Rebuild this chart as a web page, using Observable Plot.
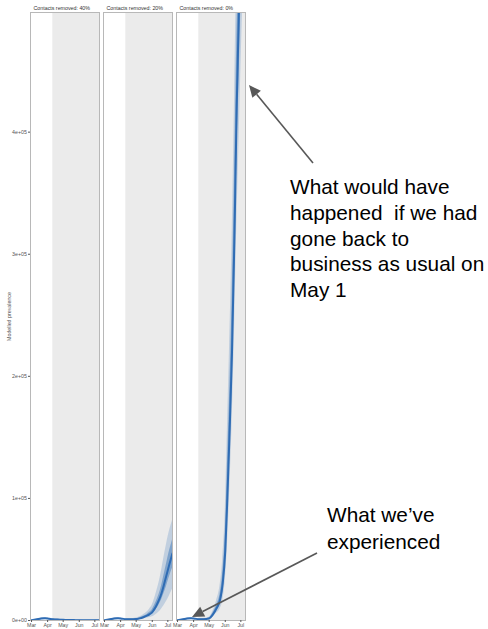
<!DOCTYPE html>
<html>
<head>
<meta charset="utf-8">
<script src="https://cdn.jsdelivr.net/npm/d3@7"></script>
<script src="https://cdn.jsdelivr.net/npm/@observablehq/plot@0.6"></script>
<style>
  html, body { margin: 0; padding: 0; background: #fff; }
  #chart { position: relative; width: 488px; height: 629px; overflow: hidden; }
  #chart svg { position: absolute; left: 0; top: 0; }
  #notes text { font-family: "Liberation Sans", Arial, Helvetica, sans-serif; font-size: 20.8px; fill: #000; white-space: pre; }
</style>
</head>
<body>
<div id="chart"></div>
<script>
// Scenario panels
const scenarios = ["Contacts removed: 40%", "Contacts removed: 20%", "Contacts removed: 0%"];

// Common time grid for the modelled trajectories
const dates = ["2020-03-01","2020-03-10","2020-03-20","2020-03-27","2020-04-03","2020-04-11","2020-04-20",
  "2020-05-01","2020-05-08","2020-05-15","2020-05-22","2020-05-27","2020-06-01","2020-06-05","2020-06-09",
  "2020-06-14","2020-06-19","2020-06-23","2020-06-28","2020-07-03","2020-07-10"];

// 40% of contacts removed: median, 50% and 95% intervals
const med40  = [250,800,1600,1800,1500,1100,800,550,450,380,320,280,250,230,210,195,180,165,150,135,120];
const lo50_40 = [190,650,1400,1600,1300,950,650,440,350,290,240,210,185,170,155,140,128,118,106,95,85];
const hi50_40 = [320,950,1800,2000,1700,1300,950,700,580,500,430,380,345,325,305,290,275,258,242,228,214];
const lo95_40 = [120,500,1150,1350,1100,780,520,340,270,220,175,148,128,113,100,90,78,70,60,52,44];
const hi95_40 = [420,1200,2100,2300,2000,1600,1200,900,770,680,600,555,520,495,475,455,435,415,395,375,355];

// 20% of contacts removed
const med20  = [250,800,1600,1800,1500,1100,950,1150,1750,2700,3900,5200,6900,9300,12300,16800,22500,28500,36500,44500,55000];
const lo50_20 = [190,650,1400,1600,1300,950,780,900,1350,2100,3000,3900,5200,7000,9300,12700,17000,21500,27500,34500,43000];
const hi50_20 = [320,950,1800,2000,1700,1300,1150,1450,2250,3500,5000,6700,8900,12100,15800,21200,28500,36000,45500,55000,66000];
const lo95_20 = [120,500,1150,1350,1100,780,600,680,930,1380,1880,2380,2980,3950,5150,6900,9400,11900,15300,19300,25500];
const hi95_20 = [420,1200,2100,2300,2000,1600,1450,1950,3000,4800,7000,9500,12600,17400,23200,31000,41000,50500,61500,71500,82000];

// 0% of contacts removed (back to business as usual)
const med0  = [250,800,1600,1800,1500,1100,1050,1700,4800,9800,17000,30000,57000,100000,150000,220000,320000,420000,510000,600000,700000];
const lo50_0 = [190,650,1400,1600,1300,950,850,1350,3900,7900,13000,23000,45000,80000,125000,190000,280000,370000,450000,540000,640000];
const hi50_0 = [320,950,1800,2000,1700,1300,1250,2100,6000,12300,22000,39000,72000,125000,180000,260000,370000,470000,560000,660000,760000];
const lo95_0 = [120,500,1150,1350,1100,780,650,1050,2900,5900,9500,16000,33000,60000,100000,160000,240000,320000,400000,480000,560000];
const hi95_0 = [420,1200,2100,2300,2000,1600,1550,2600,7600,15800,29000,50000,90000,155000,220000,310000,430000,540000,640000,750000,850000];

// Axis ticks and shaded projection window
const yTicks = [0, 100000, 200000, 300000, 400000];
const xTicks = ["2020-03-01","2020-04-01","2020-05-01","2020-06-01","2020-07-01"];
const xDomain = ["2020-02-28","2020-07-10"];
const shadeStart = "2020-04-11";
const yMax = 498000;

const series = [
  [scenarios[0], med40, lo50_40, hi50_40, lo95_40, hi95_40],
  [scenarios[1], med20, lo50_20, hi50_20, lo95_20, hi95_20],
  [scenarios[2], med0, lo50_0, hi50_0, lo95_0, hi95_0]
];
const rows = series.flatMap(([scenario, med, lo50, hi50, lo95, hi95]) =>
  dates.map((d, i) => ({scenario, date: new Date(d), med: med[i], lo50: lo50[i], hi50: hi50[i], lo95: lo95[i], hi95: hi95[i]})));

const sci = v => {
  if (v === 0) return "0e+00";
  const [m, e] = v.toExponential(0).split("e");
  return m + "e" + e[0] + e.slice(1).padStart(2, "0");
};

const blue = "#2f6cb4";
const x0 = new Date(xDomain[0]), x1 = new Date(xDomain[1]), xs = new Date(shadeStart);

const plot = Plot.plot({
  width: 488,
  height: 629,
  marginLeft: 29,
  marginRight: 242,
  marginTop: 12,
  marginBottom: 9,
  style: {fontFamily: "'Liberation Sans', Arial, Helvetica, sans-serif", fontSize: "5.3px", background: "transparent"},
  fx: {domain: scenarios, paddingInner: 0.055, paddingOuter: 0, axis: null},
  x: {type: "utc", domain: [x0, x1]},
  y: {domain: [0, yMax]},
  marks: [
    Plot.rect(scenarios, {fx: d => d, x1: () => xs, x2: () => x1, y1: () => 0, y2: () => yMax, fill: "#ebebeb"}),
    Plot.areaY(rows, {fx: "scenario", x: "date", y1: "lo95", y2: "hi95", fill: blue, fillOpacity: 0.22, curve: "monotone-x", clip: true}),
    Plot.areaY(rows, {fx: "scenario", x: "date", y1: "lo50", y2: "hi50", fill: blue, fillOpacity: 0.45, curve: "monotone-x", clip: true}),
    Plot.lineY(rows, {fx: "scenario", x: "date", y: "med", stroke: blue, strokeWidth: 2, curve: "monotone-x", clip: true}),
    Plot.frame({stroke: "#b8b8b8", strokeWidth: 1}),
    Plot.text(scenarios, {fx: d => d, text: d => d, frameAnchor: "top-left", lineAnchor: "bottom", dx: 3, dy: -2.5, fill: "#333", fontSize: 5.3}),
    Plot.axisY({
      ticks: yTicks, tickFormat: sci, tickSize: 2, tickPadding: 1.5, color: "#555",
      label: "Modelled prevalence", labelAnchor: "center", labelArrow: "none", labelOffset: 23
    }),
    Plot.axisX({
      ticks: xTicks.map(d => new Date(d)), tickFormat: d3.utcFormat("%b"), tickSize: 2, tickPadding: 1, color: "#555", label: null
    })
  ]
});
document.getElementById("chart").appendChild(plot);

// Annotation layer: callout text and arrows
const notes = d3.select("#chart").append("svg")
  .attr("id", "notes").attr("width", 488).attr("height", 629).style("pointer-events", "none");

const calloutA = ["What would have", "happened  if we had", "gone back to", "business as usual on", "May 1"];
const calloutB = ["What we\u2019ve", "experienced"];

calloutA.forEach((t, i) => notes.append("text").attr("x", 290).attr("y", 194 + i * 25.8).text(t));
calloutB.forEach((t, i) => notes.append("text").attr("x", 327).attr("y", 522 + i * 26.5).text(t));

function arrow(fx, fy, tx, ty) {
  const a = Math.atan2(ty - fy, tx - fx), len = 12, hw = 5.5;
  const bx = tx - len * Math.cos(a), by = ty - len * Math.sin(a);
  notes.append("line").attr("x1", fx).attr("y1", fy).attr("x2", bx).attr("y2", by)
    .attr("stroke", "#585858").attr("stroke-width", 1.6);
  notes.append("path")
    .attr("d", `M${tx},${ty}L${bx + hw * Math.sin(a)},${by - hw * Math.cos(a)}L${bx - hw * Math.sin(a)},${by + hw * Math.cos(a)}Z`)
    .attr("fill", "#585858");
}
arrow(313, 163, 249, 85);
arrow(317, 553, 192, 617);
</script>
</body>
</html>
